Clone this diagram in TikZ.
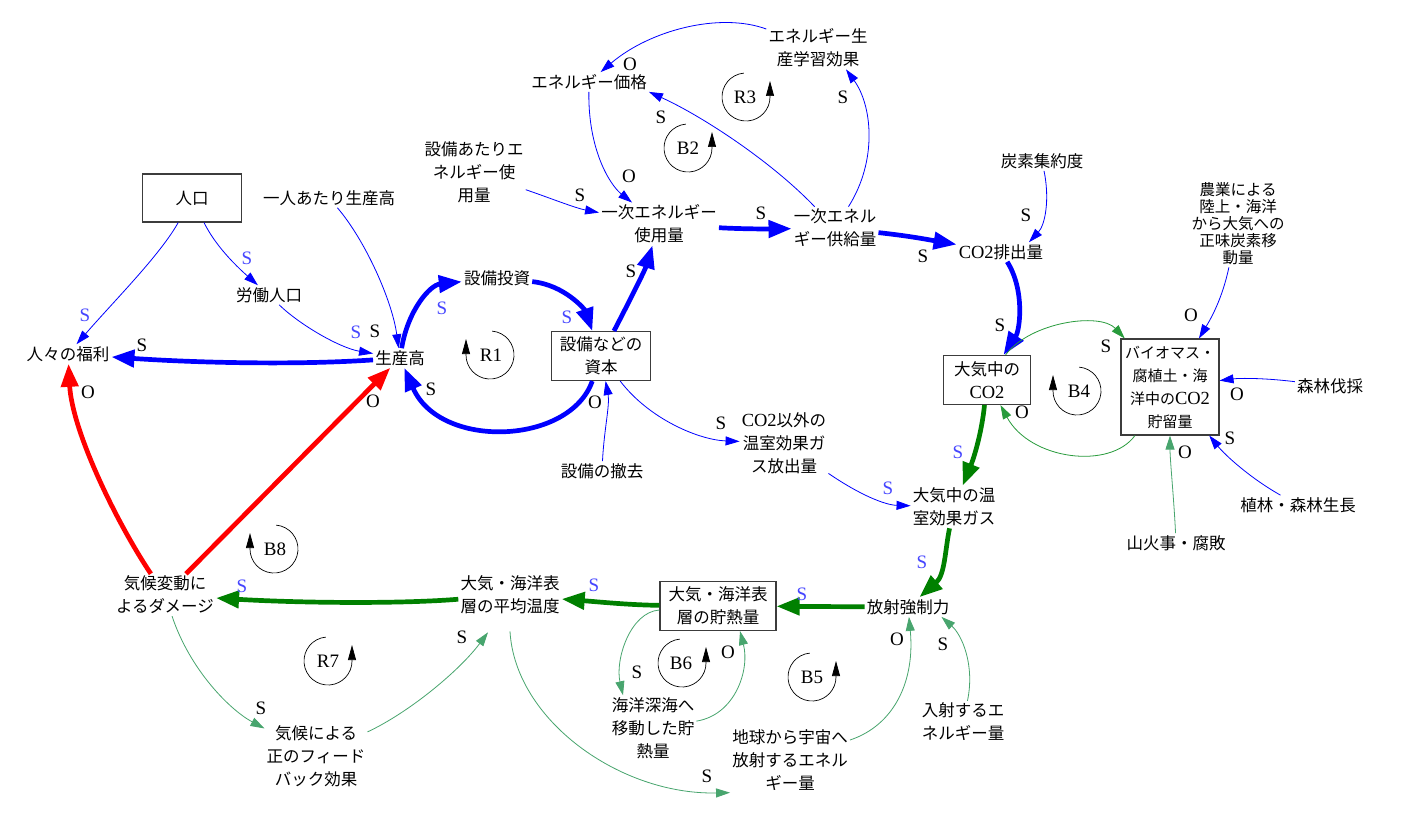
\documentclass[tikz,border=0pt]{standalone}
\usepackage{fontspec}
\setmainfont{Noto Sans CJK JP}
\newfontfamily\lat{Liberation Serif}
\usetikzlibrary{arrows.meta}
\definecolor{cblue}{RGB}{0,0,255}
\definecolor{cred}{RGB}{255,0,0}
\definecolor{dgreen}{RGB}{0,128,0}
\definecolor{lgreen}{RGB}{72,165,110}
\definecolor{mgreen}{RGB}{40,155,60}
\definecolor{sblue}{RGB}{70,70,255}
\definecolor{boxc}{RGB}{60,60,60}
\newcommand\cotwo{{\lat\fontsize{18.5pt}{23pt}\selectfont CO2}}
\tikzset{
 txt/.style={font=\fontsize{16.5pt}{23pt}\selectfont, align=center, inner sep=2pt},
 boxn/.style={txt, draw=boxc, line width=1.1pt, inner sep=3pt},
 pol/.style={font=\lat\fontsize{19pt}{19pt}\selectfont, inner sep=0pt},
 ps/.style={pol,text=sblue},
 pk/.style={pol,text=black},
 tarr/.style={line width=0.8pt,-{Triangle[length=14pt,width=9pt]}},
 karr/.style={line width=4.7pt,-{Triangle[length=23pt,width=17pt]}},
 tbl/.style={tarr,draw=cblue},
 kbl/.style={karr,draw=cblue},
 kred/.style={karr,draw=cred},
 kgr/.style={karr,draw=dgreen},
 tgr/.style={tarr,draw=lgreen},
 mgr/.style={tarr,draw=mgreen},
 lp/.style={draw=black,line width=0.7pt,-{Triangle[length=15pt,width=8pt]}},
}
\begin{document}
\begin{tikzpicture}[x=1pt,y=-1pt]
\fill[white] (0,0) rectangle (1426,821);
\useasboundingbox (0,0) rectangle (1426,821);

% ---------- nodes ----------
\node[boxn, minimum width=99pt, minimum height=48pt] (pop) at (192,198) {人口};
\node[txt] (ppo) at (329,198) {一人あたり生産高};
\node[txt] (lab) at (269,295) {労働人口};
\node[txt] (wel) at (68,354) {人々の福利};
\node[txt] (prod) at (400,358) {生産高};
\node[txt] (inv) at (497,278) {設備投資};
\node[boxn, minimum width=99pt, minimum height=49pt] (cap) at (601,356) {設備などの\\資本};
\node[txt] (dis) at (602,471) {設備の撤去};
\node[txt] (ngh) at (784,443) {\cotwo 以外の\\温室効果ガ\\ス放出量};
\node[txt] (price) at (589,82) {エネルギー価格};
\node[txt] (learn) at (818,48) {エネルギー生\\産学習効果};
\node[txt] (epc) at (474,172) {設備あたりエ\\ネルギー使\\用量};
\node[txt] (peu) at (659,224) {一次エネルギー\\使用量};
\node[txt] (pes) at (835,228) {一次エネル\\ギー供給量};
\node[txt] (ci) at (1042,161) {炭素集約度};
\node[txt] (emi) at (1001,252) {\cotwo 排出量};
\node[txt, font=\fontsize{15.5pt}{17pt}\selectfont] (agr) at (1238,224) {農業による\\陸上・海洋\\から大気への\\正味炭素移\\動量};
\node[boxn, minimum width=87pt, minimum height=49pt] (aco2) at (987,380) {大気中の\\\cotwo};
\node[boxn, minimum width=98pt, minimum height=96pt, font=\fontsize{15pt}{23pt}\selectfont] (bio) at (1170,387) {バイオマス・\\腐植土・海\\洋中の\cotwo\\貯留量};
\node[txt] (def) at (1330,386) {森林伐採};
\node[txt] (aff) at (1298,505) {植林・森林生長};
\node[txt] (fire) at (1176,543) {山火事・腐敗};
\node[txt] (ghg) at (954,507) {大気中の温\\室効果ガス};
\node[txt] (rf) at (908,607) {放射強制力};
\node[boxn, minimum width=116pt, minimum height=49pt] (heat) at (718,606) {大気・海洋表\\層の貯熱量};
\node[txt] (temp) at (510,595) {大気・海洋表\\層の平均温度};
\node[txt] (dmg) at (165,595) {気候変動に\\よるダメージ};
\node[txt] (fb) at (316,756) {気候による\\正のフィード\\バック効果};
\node[txt] (deep) at (653,728) {海洋深海へ\\移動した貯\\熱量};
\node[txt] (out) at (790,760) {地球から宇宙へ\\放射するエネル\\ギー量};
\node[txt] (inc) at (963,722) {入射するエ\\ネルギー量};

% ---------- connectors ----------
\draw[tbl] (pop) .. controls (160,255) and (115,300) .. (wel);
\draw[tbl] (pop) .. controls (215,245) and (235,265) .. (lab);
\draw[tbl] (lab) .. controls (300,325) and (340,348) .. (prod);
\draw[tbl] (ppo) .. controls (365,240) and (392,300) .. (prod);
\draw[kbl] (prod) .. controls (300,365) and (200,363) .. (wel);
\draw[kred] (dmg) .. controls (115,520) and (72,430) .. (wel);
\draw[kred] (dmg) -- (prod);
\draw[kbl] (prod) .. controls (408,310) and (430,285) .. (inv);
\draw[kbl] (inv) .. controls (565,285) and (585,310) .. (cap);
\draw[kbl] (cap) .. controls (570,445) and (440,450) .. (prod);
\draw[kbl] (cap) .. controls (630,300) and (645,270) .. (peu);
\draw[tbl] (dis) .. controls (604,430) and (610,405) .. (cap);
\draw[tbl] (cap) .. controls (650,420) and (700,440) .. (ngh);
\draw[tbl] (ngh) .. controls (860,495) and (885,505) .. (ghg);
\draw[tbl] (learn) .. controls (720,12) and (650,30) .. (price);
\draw[tbl] (price) .. controls (588,150) and (610,185) .. (peu);
\draw[tbl] (epc) .. controls (550,198) and (575,208) .. (peu);
\draw[kbl] (peu) .. controls (740,229) and (770,229) .. (pes);
\draw[tbl] (pes) .. controls (770,160) and (700,115) .. (price.south east);
\draw[tbl] (pes) .. controls (878,160) and (872,105) .. ([xshift=28pt]learn.south);
\draw[kbl] (pes) .. controls (910,236) and (930,240) .. (emi);
\draw[tbl] (ci) .. controls (1050,200) and (1045,225) .. ([xshift=28pt]emi.north);
\draw[kbl] (emi) .. controls (1025,290) and (1020,330) .. (aco2);
\draw[mgr] (aco2) .. controls (1030,322) and (1100,312) .. (bio);
\draw[mgr] (bio) .. controls (1110,470) and (1030,460) .. (aco2);
\draw[tbl] (agr) .. controls (1222,300) and (1210,320) .. (bio);
\draw[tbl] (def) .. controls (1265,378) and (1240,378) .. (bio);
\draw[tbl] (aff) .. controls (1250,478) and (1225,455) .. (bio);
\draw[tgr] (fire) .. controls (1174,500) and (1170,460) .. (bio);
\draw[kgr] (aco2) .. controls (982,430) and (975,455) .. (ghg);
\draw[kgr] (ghg) .. controls (945,550) and (945,575) .. (rf);
\draw[kgr] (rf) -- (heat);
\draw[kgr] (heat) .. controls (630,605) and (600,602) .. (temp);
\draw[kgr] (temp) .. controls (400,604) and (300,603) .. (dmg);
\draw[tgr] (heat) .. controls (630,612) and (615,660) .. ([xshift=-30pt]deep.north);
\draw[tgr] (deep) .. controls (735,715) and (750,670) .. ([xshift=22pt]heat.south);
\draw[tgr] (out) .. controls (895,725) and (915,680) .. (rf);
\draw[tgr] (inc) .. controls (975,665) and (962,635) .. ([xshift=-10pt]rf.south east);
\draw[tgr] ([yshift=-15pt]temp.south) .. controls (515,720) and (620,795) .. (out.south west);
\draw[tgr] (dmg) .. controls (190,670) and (230,710) .. (fb);
\draw[tgr] (fb) .. controls (410,712) and (460,670) .. ([xshift=-22pt,yshift=-16pt]temp.south);

% ---------- loop markers ----------
\coordinate (cR1) at (490,355);
\coordinate (cB2) at (688,148);
\coordinate (cR3) at (746,97);
\coordinate (cB4) at (1077,391);
\coordinate (cB5) at (812,677);
\coordinate (cB6) at (682,663);
\coordinate (cR7) at (328,661);
\coordinate (cB8) at (274,549);
\draw[lp] (cR1) ++(85:24pt) arc[start angle=85,end angle=-180,radius=24pt] -- ++(0,-16);
\draw[lp] (cB4) ++(85:24pt) arc[start angle=85,end angle=-180,radius=24pt] -- ++(0,-16);
\draw[lp] (cB8) ++(85:24pt) arc[start angle=85,end angle=-180,radius=24pt] -- ++(0,-16);
\draw[lp] (cB2) ++(95:24pt) arc[start angle=95,end angle=360,radius=24pt] -- ++(0,-16);
\draw[lp] (cR3) ++(95:24pt) arc[start angle=95,end angle=360,radius=24pt] -- ++(0,-16);
\draw[lp] (cB5) ++(95:24pt) arc[start angle=95,end angle=360,radius=24pt] -- ++(0,-16);
\draw[lp] (cB6) ++(95:24pt) arc[start angle=95,end angle=360,radius=24pt] -- ++(0,-16);
\draw[lp] (cR7) ++(95:24pt) arc[start angle=95,end angle=360,radius=24pt] -- ++(0,-16);
\node[pk] (tR1) at (491,355) {R1};
\node[pk] (tB2) at (688,148) {B2};
\node[pk] (tR3) at (745,97) {R3};
\node[pk] (tB4) at (1079,391) {B4};
\node[pk] (tB5) at (812,677) {B5};
\node[pk] (tB6) at (681,663) {B6};
\node[pk] (tR7) at (328,661) {R7};
\node[pk] (tB8) at (275,549) {B8};

% ---------- polarity labels ----------
\node[ps] (s1) at (85,315) {S};
\node[ps] (s2) at (247,258) {S};
\node[ps] (s3) at (356,332) {S};
\node[ps] (s4) at (442,308) {S};
\node[ps] (s5) at (567,317) {S};
\node[ps] (s6) at (888,488) {S};
\node[ps] (s7) at (958,452) {S};
\node[ps] (s8) at (922,562) {S};
\node[ps] (s9) at (802,594) {S};
\node[ps] (s10) at (594,585) {S};
\node[ps] (s11) at (242,586) {S};
\node[pk] (k1) at (375,331) {S};
\node[pk] (k2) at (142,345) {S};
\node[pk] (k3) at (431,389) {S};
\node[pk] (k4) at (631,271) {S};
\node[pk] (k5) at (580,195) {S};
\node[pk] (k6) at (761,213) {S};
\node[pk] (k7) at (661,117) {S};
\node[pk] (k8) at (843,97) {S};
\node[pk] (k9) at (923,256) {S};
\node[pk] (k10) at (1026,215) {S};
\node[pk] (k11) at (1000,325) {S};
\node[pk] (k12) at (1106,346) {S};
\node[pk] (k13) at (1230,438) {S};
\node[pk] (k14) at (721,423) {S};
\node[pk] (k15) at (637,672) {S};
\node[pk] (k16) at (943,644) {S};
\node[pk] (k17) at (707,776) {S};
\node[pk] (k18) at (261,708) {S};
\node[pk] (k19) at (462,637) {S};
\node[pk] (o1) at (88,392) {O};
\node[pk] (o2) at (373,401) {O};
\node[pk] (o3) at (595,402) {O};
\node[pk] (o4) at (630,64) {O};
\node[pk] (o5) at (629,176) {O};
\node[pk] (o6) at (1191,315) {O};
\node[pk] (o7) at (1237,394) {O};
\node[pk] (o8) at (1022,412) {O};
\node[pk] (o9) at (1185,452) {O};
\node[pk] (o10) at (728,652) {O};
\node[pk] (o11) at (897,639) {O};
\end{tikzpicture}
\end{document}
